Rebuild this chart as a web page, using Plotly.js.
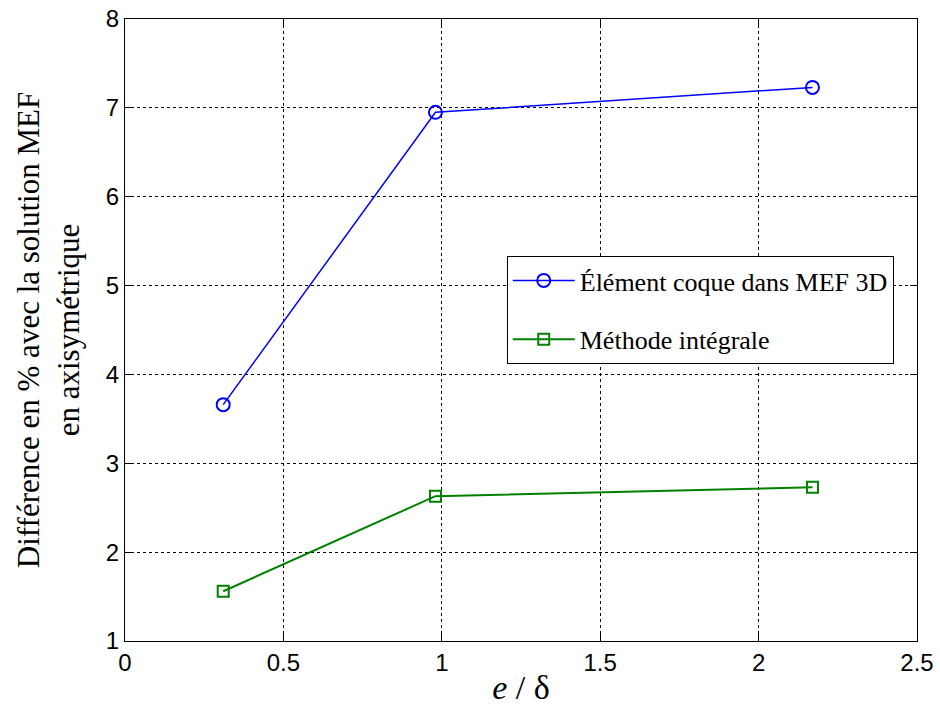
<!DOCTYPE html>
<html><head><meta charset="utf-8">
<script src="https://cdn.plot.ly/plotly-3.0.1.min.js"></script>
<style>body{margin:0;background:#fff}#g{width:940px;height:706px}</style>
</head><body><div id="g"></div>
<script>
const xVals = [0.31, 0.98, 2.17];
const shellVals = [3.66, 6.95, 7.23];
const integralVals = [1.56, 2.63, 2.73];
const seriesNames = ["Élément coque dans MEF 3D", "Méthode intégrale"];
const xTicks = [0, 0.5, 1, 1.5, 2, 2.5];
const xTickText = ["0", "0.5", "1", "1.5", "2", "2.5"];
const yTicks = [1, 2, 3, 4, 5, 6, 7, 8];

const traces = [
  {x: xVals, y: shellVals, name: seriesNames[0], type: 'scatter', mode: 'lines+markers',
   legendgroup: 'a',
   line: {color: '#0000ff', width: 1.5},
   marker: {symbol: 'circle-open', size: 13, color: '#0000ff', line: {width: 2, color: '#0000ff'}}},
  {x: xVals, y: integralVals, name: seriesNames[1], type: 'scatter', mode: 'lines+markers',
   legendgroup: 'b',
   line: {color: '#008000', width: 2},
   marker: {symbol: 'square-open', size: 11, color: '#008000', line: {width: 2, color: '#008000'}}}
];

const axisCommon = {
  showline: true, mirror: 'ticks', linecolor: '#000', linewidth: 1,
  ticks: 'inside', ticklen: 7, tickcolor: '#000',
  showgrid: true, gridcolor: '#000', griddash: 'dot', gridwidth: 1,
  zeroline: false,
  tickfont: {family: 'Liberation Sans, Arial', size: 24, color: '#000'}
};

const layout = {
  width: 940, height: 706,
  margin: {l: 125, r: 23, t: 19, b: 65},
  paper_bgcolor: '#fff', plot_bgcolor: '#fff',
  showlegend: true,
  xaxis: Object.assign({}, axisCommon, {
    range: [0, 2.5], tickvals: xTicks, ticktext: xTickText,
    title: {text: '<i>e</i> / δ', font: {family: 'Liberation Serif, Times New Roman', size: 34, color: '#000'}, standoff: 2}
  }),
  yaxis: Object.assign({}, axisCommon, {
    range: [1, 8], tickvals: yTicks,
    title: {text: 'Différence en % avec la solution MEF<br>en axisymétrique', font: {family: 'Liberation Serif, Times New Roman', size: 31, color: '#000'}, standoff: 16}
  }),
  legend: {
    x: 0.482, y: 0.619, xanchor: 'left', yanchor: 'top',
    bgcolor: '#fff', bordercolor: '#000', borderwidth: 1,
    font: {family: 'Liberation Serif, Times New Roman', size: 26, color: '#000'},
    traceorder: 'grouped', tracegroupgap: 22, itemwidth: 62
  }
};

Plotly.newPlot('g', traces, layout, {displayModeBar: false, staticPlot: true});
</script>
</body></html>
